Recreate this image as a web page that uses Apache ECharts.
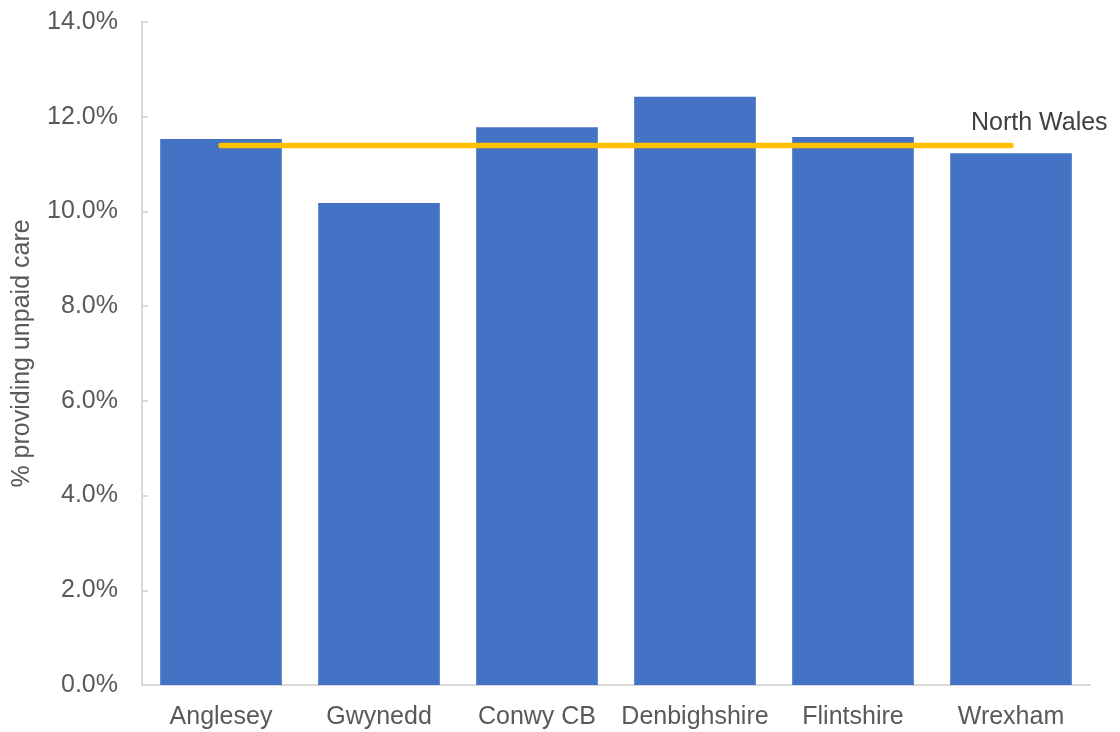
<!DOCTYPE html>
<html>
<head>
<meta charset="utf-8">
<script src="https://cdn.jsdelivr.net/npm/echarts@6/dist/echarts.min.js"></script>
<style>
html,body{margin:0;padding:0;background:#fff;}
#chart{width:1120px;height:732px;}
</style>
</head>
<body>
<div id="chart"></div>
<script>
const categories = ['Anglesey', 'Gwynedd', 'Conwy CB', 'Denbighshire', 'Flintshire', 'Wrexham'];
const unpaidCare = [11.53, 10.18, 11.78, 12.42, 11.57, 11.23];
const northWales = [11.39, 11.39, 11.39, 11.39, 11.39, 11.39];
const yTicks = { min: 0, max: 14, interval: 2 };

const FONT = '"Liberation Sans", Arial, sans-serif';
const chart = echarts.init(document.getElementById('chart'));
chart.setOption({
  animation: false,
  grid: { left: 142, right: 30, top: 22, bottom: 47, containLabel: false, outerBoundsMode: 'none' },
  xAxis: {
    type: 'category',
    data: categories,
    boundaryGap: true,
    axisLine: { lineStyle: { color: '#d9d9d9', width: 2 } },
    axisTick: { show: false },
    axisLabel: { color: '#595959', fontSize: 25, fontFamily: FONT, margin: 20, interval: 0, hideOverlap: false }
  },
  yAxis: {
    type: 'value',
    min: yTicks.min, max: yTicks.max, interval: yTicks.interval,
    name: '% providing unpaid care',
    nameLocation: 'middle',
    nameGap: 107,
    nameTextStyle: { color: '#595959', fontSize: 25, fontFamily: FONT },
    axisLine: { show: true, lineStyle: { color: '#d9d9d9', width: 2 } },
    axisTick: { show: true, inside: true, length: 6, lineStyle: { color: '#d9d9d9', width: 2 } },
    splitLine: { show: false },
    axisLabel: { color: '#595959', fontSize: 25, fontFamily: FONT, margin: 24,
      formatter: v => v.toFixed(1) + '%' }
  },
  series: [
    {
      type: 'bar',
      data: unpaidCare,
      barCategoryGap: '23%',
      itemStyle: { color: '#4472C4' }
    },
    {
      type: 'line',
      data: northWales,
      symbol: 'none',
      lineStyle: { color: '#FFC000', width: 5.5, cap: 'round' },
      endLabel: {
        show: true,
        formatter: 'North Wales',
        color: '#404040',
        fontSize: 25,
        fontFamily: FONT,
        offset: [-48, -22]
      }
    }
  ]
});
</script>
</body>
</html>
